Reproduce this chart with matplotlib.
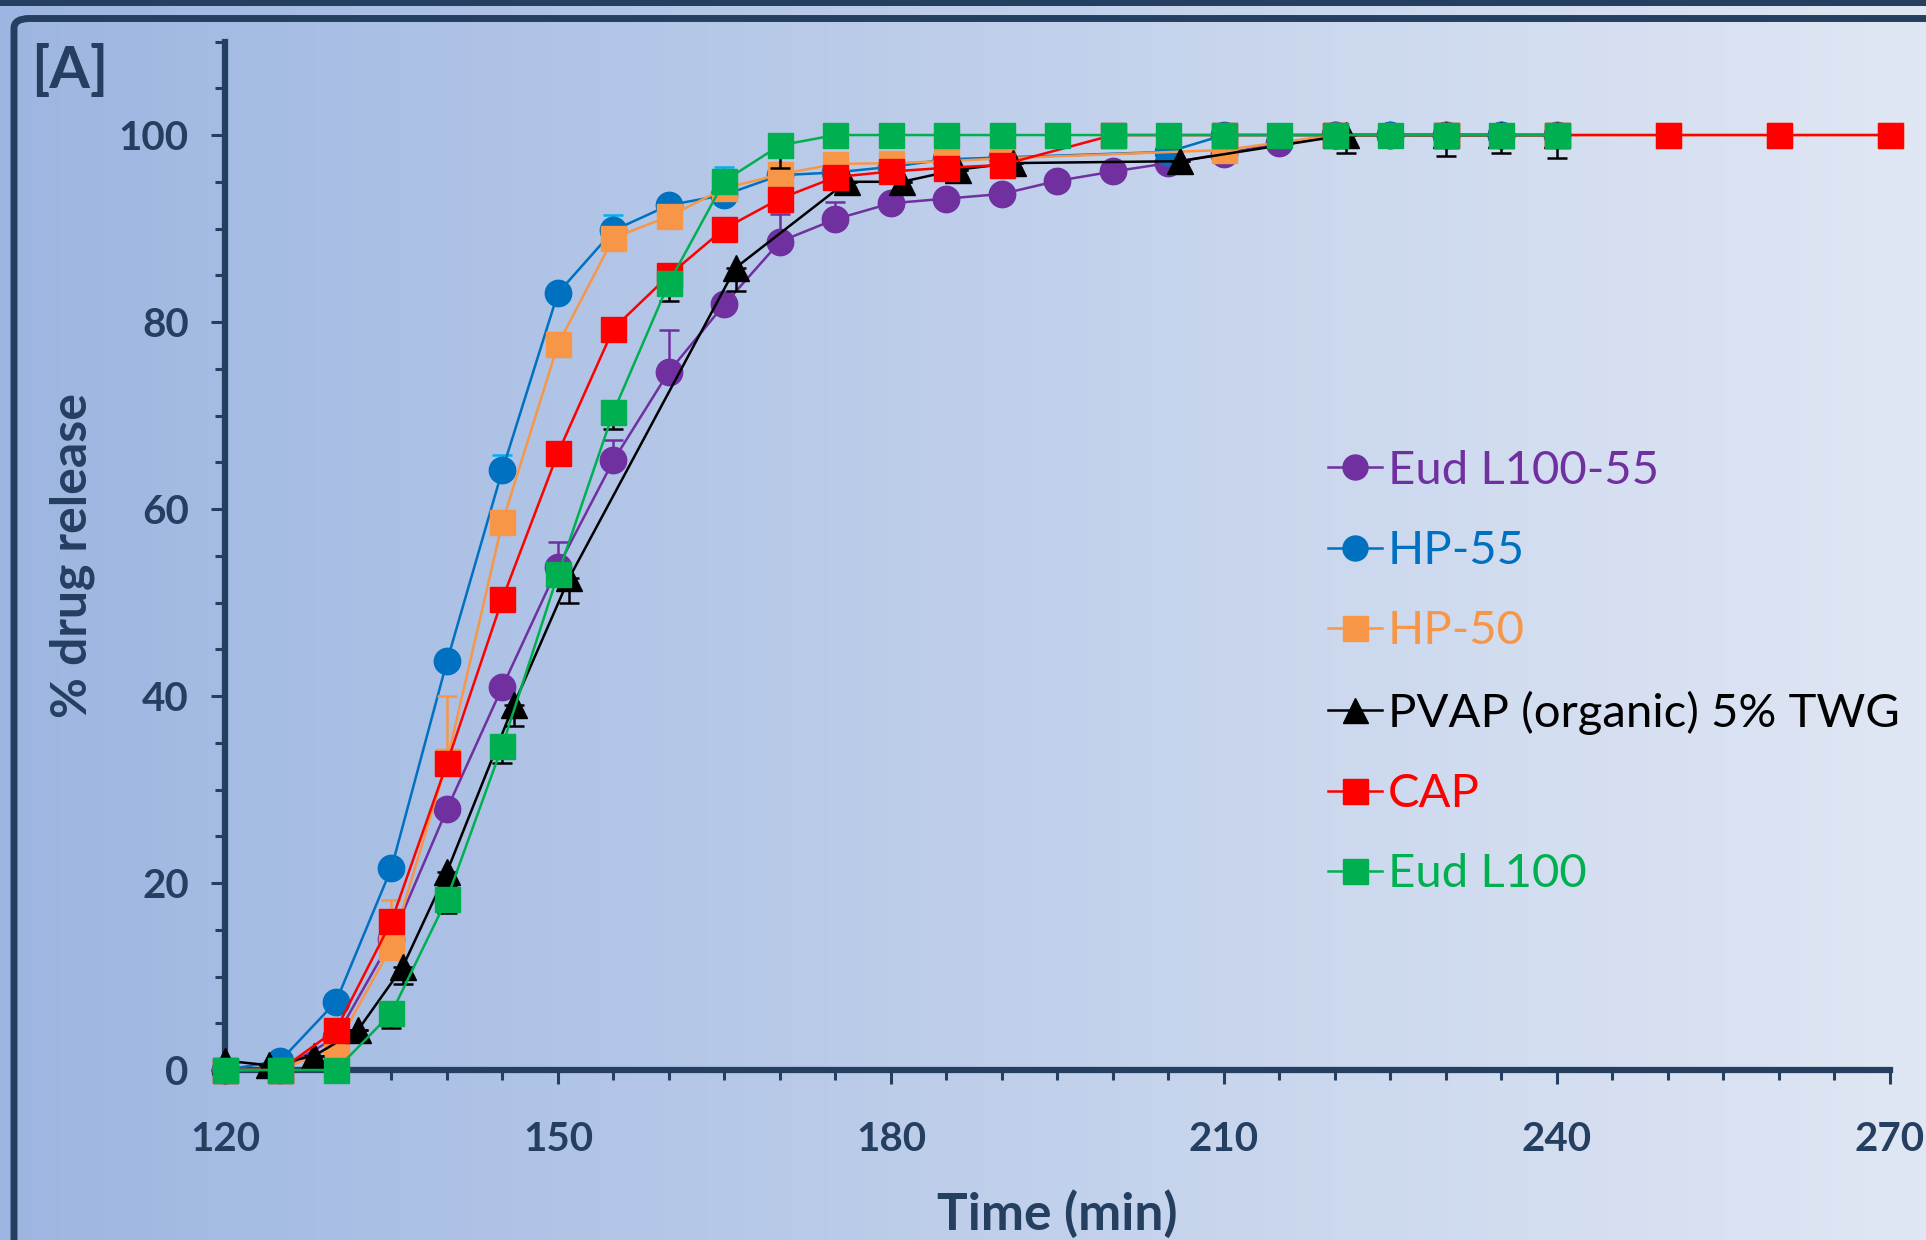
import matplotlib.pyplot as plt
import numpy as np
from matplotlib.patches import FancyBboxPatch, Rectangle
from matplotlib.ticker import MultipleLocator

# ---- data (% drug release vs time, min) ----
t_eud55 = [120, 125, 130, 135, 140, 145, 150, 155, 160, 165, 170, 175, 180,
           185, 190, 195, 200, 205, 210, 215, 220, 225, 230, 235]
eud55 = [0, 0, 3.5, 14.0, 27.9, 41.0, 53.8, 65.2, 74.7, 81.9, 88.6, 91.0, 92.7,
         93.2, 93.7, 95.1, 96.1, 97.0, 98.0, 99.1, 100, 100, 100, 100]
eud55_err = [0, 0, 0, 0, 0, 0, 2.7, 2.2, 4.4, 0, 3.0, 1.8, 0,
             0, 0, 0, 0, 0, 0, 0, 0, 0, 0, 0]

t_hp55 = [120, 125, 130, 135, 140, 145, 150, 155, 160, 165, 170, 175, 180,
          185, 190, 205, 210, 220, 225, 230, 235, 240]
hp55 = [0, 1.0, 7.3, 21.6, 43.7, 64.2, 83.1, 89.8, 92.5, 93.6, 95.7, 96.0, 96.6,
        97.4, 97.6, 98.2, 100, 100, 100, 100, 100, 100]
hp55_err = [0, 0, 0, 0, 0, 1.6, 0, 1.6, 0, 3.0, 0, 0, 0,
            0, 0, 0, 0, 0, 0, 0, 0, 0]

t_hp50 = [120, 125, 130, 135, 140, 145, 150, 155, 160, 165, 170, 175, 180,
          185, 190, 210, 220, 230, 240, 250, 260, 270]
hp50 = [0, 0, 2.5, 13.2, 33.0, 58.6, 77.6, 89.0, 91.3, 94.3, 95.8, 96.9, 97.0,
        97.2, 97.5, 98.4, 100, 100, 100, 100, 100, 100]
hp50_err = [0, 0, 0, 5.0, 7.0, 0, 0, 0, 0, 0, 0, 0, 0,
            0, 0, 0, 0, 0, 0, 0, 0, 0]

t_pvap = [120, 124, 128, 132, 136, 140, 146, 151, 166, 176, 181, 186, 191,
          206, 221, 230, 235, 240]
pvap = [1.0, 0.5, 1.5, 4.3, 11.0, 21.2, 39.0, 52.6, 85.8, 95.0, 95.0, 96.3, 97.0,
        97.2, 100, 100, 100, 100]
pvap_err = [0, 0, 0, 0, 1.8, 1.5, 2.2, 2.6, 2.5, 0, 0, 0, 0,
            0, 1.9, 2.2, 1.9, 2.5]

t_cap = [120, 125, 130, 135, 140, 145, 150, 155, 160, 165, 170, 175, 180,
         185, 190, 200, 210, 220, 230, 240, 250, 260, 270]
cap = [0, 0, 4.3, 15.9, 32.8, 50.4, 66.0, 79.3, 85.0, 90.0, 93.2, 95.5, 96.1,
       96.5, 96.8, 100, 100, 100, 100, 100, 100, 100, 100]

t_eud100 = [120, 125, 130, 135, 140, 145, 150, 155, 160, 165, 170, 175, 180,
            185, 190, 195, 200, 205, 210, 215, 220, 225, 230, 235, 240]
eud100 = [0, 0, 0, 6.1, 18.3, 34.7, 53.0, 70.4, 84.2, 95.1, 98.9, 100, 100,
          100, 100, 100, 100, 100, 100, 100, 100, 100, 100, 100, 100]
eud100_err = [0, 0, 0, 1.6, 1.5, 1.9, 0, 1.8, 1.9, 0, 2.4, 0, 0,
              0, 0, 0, 0, 0, 0, 0, 0, 0, 0, 0, 0]

labels = ["Eud L100-55", "HP-55", "HP-50", "PVAP (organic) 5% TWG", "CAP", "Eud L100"]

navy = "#243F60"
plt.rcParams["font.family"] = ["Lato", "DejaVu Sans"]

fig = plt.figure(figsize=(19.26, 12.40), dpi=100)

# background gradient
bg = fig.add_axes([0, 0, 1, 1], zorder=-10)
grad = np.linspace(0, 1, 256)[None, :]
left_c = np.array([157, 182, 225]) / 255
right_c = np.array([224, 231, 244]) / 255
img = left_c[None, None, :] * (1 - grad[..., None]) + right_c[None, None, :] * grad[..., None]
bg.imshow(img, aspect="auto", extent=[0, 1, 0, 1])
bg.axis("off")

# frame
fig.patches.append(Rectangle((0, 1 - 6 / 1240), 1, 6 / 1240, transform=fig.transFigure,
                             facecolor=navy, edgecolor="none", zorder=-5))
fig.patches.append(FancyBboxPatch((14 / 1926, -0.1), 1.2, 1 - 18.5 / 1240 + 0.1,
                                  boxstyle="round,pad=0,rounding_size=0.008",
                                  transform=fig.transFigure, facecolor="none",
                                  edgecolor=navy, linewidth=5, zorder=-5))

ax = fig.add_axes([0.1168, 0.1371, 0.9813 - 0.1168, 0.9665 - 0.1371])
ax.patch.set_alpha(0)

series = [
    (t_eud55, eud55, eud55_err, "#7030A0", "#7030A0", "o", 19, "up"),
    (t_hp55, hp55, hp55_err, "#0070C0", "#00B0F0", "o", 19, "up"),
    (t_hp50, hp50, hp50_err, "#F79646", "#F79646", "s", 18, "up"),
    (t_pvap, pvap, pvap_err, "black", "black", "^", 19, "down"),
    (t_cap, cap, None, "#FF0000", "#FF0000", "s", 18, "up"),
    (t_eud100, eud100, eud100_err, "#00B050", "black", "s", 18, "down"),
]

for i, (t, y, err, c, ec, m, ms, side) in enumerate(series):
    z = 4 + i
    if err is not None:
        e = np.array(err)
        yerr = [np.zeros_like(e), e] if side == "up" else [e, np.zeros_like(e)]
        ax.errorbar(t, y, yerr=yerr, fmt="none", ecolor=ec, elinewidth=1.8,
                    capsize=7, capthick=1.8, zorder=z, clip_on=False)
    ax.plot(t, y, color=c, marker=m, markersize=ms, lw=1.8, label=labels[i],
            zorder=z + 0.5, clip_on=False)

ax.set_xlim(120, 270)
ax.set_ylim(0, 110)
ax.xaxis.set_major_locator(MultipleLocator(30))
ax.xaxis.set_minor_locator(MultipleLocator(5))
ax.yaxis.set_major_locator(MultipleLocator(20))
ax.yaxis.set_minor_locator(MultipleLocator(5))
ax.set_yticks([0, 20, 40, 60, 80, 100])

for s in ["top", "right"]:
    ax.spines[s].set_visible(False)
for s in ["left", "bottom"]:
    ax.spines[s].set_linewidth(4.5)
    ax.spines[s].set_color(navy)

ax.tick_params(which="major", length=10, width=2.2, color=navy, labelsize=29,
               labelcolor=navy, pad=16)
ax.tick_params(which="minor", length=7, width=2.2, color=navy)
for lab in ax.get_xticklabels() + ax.get_yticklabels():
    lab.set_fontweight("bold")
ax.tick_params(axis="x", pad=27)

ax.set_xlabel("Time (min)", fontsize=37, fontweight="bold", color=navy, labelpad=23)
ax.set_ylabel("% drug release", fontsize=36, fontweight="bold", color=navy, labelpad=17)

fig.text(31 / 1926, 1 - 44 / 1240, "[A]", fontsize=42, fontweight="bold", color=navy,
         ha="left", va="top")

leg = ax.legend(loc="upper left", bbox_to_anchor=(1328 / 1926, 1 - 450 / 1240),
                bbox_transform=fig.transFigure, frameon=False, fontsize=34,
                labelcolor="linecolor", handlelength=1.15, handletextpad=0.12,
                labelspacing=0.81, borderaxespad=0, borderpad=0)
for h in leg.legend_handles:
    h.set_markersize(18)

fig.savefig("out.png", dpi=100)
